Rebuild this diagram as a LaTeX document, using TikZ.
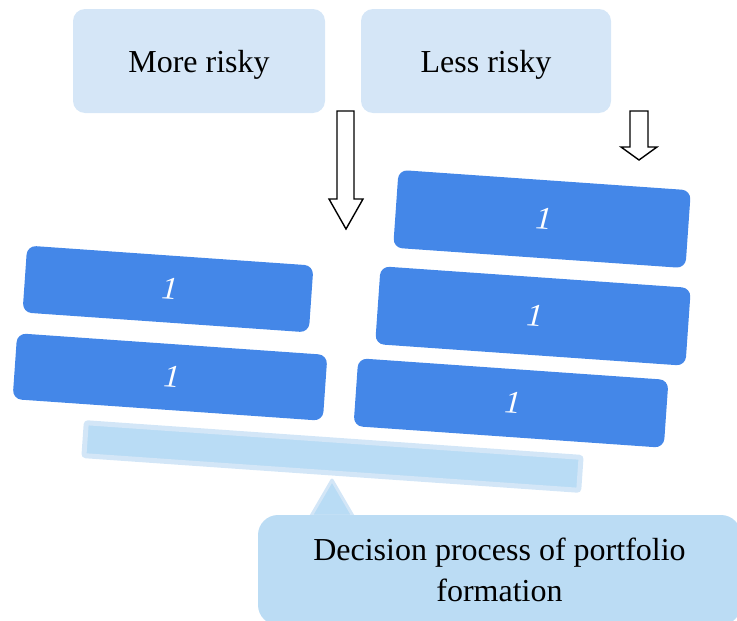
\documentclass[tikz,border=0pt]{standalone}
\usepackage{fontspec}
\setmainfont{Liberation Serif}
\newfontfamily\slantserif[FakeSlant=0.18]{Liberation Serif}
\usepackage{tikz}
\usepackage{xcolor}
\usetikzlibrary{positioning}

\definecolor{topfill}{HTML}{D5E6F7}
\definecolor{weightblue}{HTML}{4487E8}
\definecolor{beamfill}{HTML}{B9DCF5}
\definecolor{beamedge}{HTML}{D3E6F7}
\definecolor{basefill}{HTML}{BBDCF4}

\tikzset{
  riskbox/.style={fill=topfill, rounded corners=12pt, minimum width=252pt,
    minimum height=104pt, text depth=0pt, font=\fontsize{32}{38}\selectfont},
  weight/.style={fill=weightblue, rounded corners=9pt, rotate=-4, text=white,
    text depth=0pt, font=\fontsize{32}{38}\slantserif},
  hollowarrow/.style={draw=black, line width=1.4pt, fill=white, line join=miter}
}

\begin{document}
\begin{tikzpicture}[x=1pt,y=-1pt]
\useasboundingbox (0,0) rectangle (737,621);

\node[riskbox] (morerisky) at (199,61) {More risky};
\node[riskbox, minimum width=250pt] (lessrisky) at (486,61) {Less risky};

\draw[hollowarrow] (337,111) -- (337,199) -- (329,199) -- (346,229) -- (363,199) -- (354,199) -- (354,111) -- cycle;
\draw[hollowarrow] (630,111) -- (630,147) -- (621,147) -- (639,160) -- (657,147) -- (648,147) -- (648,111) -- cycle;

\node[weight, minimum width=287pt, minimum height=67pt] (l1) at (168,289) {1};
\node[weight, minimum width=311pt, minimum height=66pt] (l2) at (170,377) {1};

\node[weight, minimum width=293pt, minimum height=78pt] (r1) at (542,219) {1};
\node[weight, minimum width=311pt, minimum height=78pt] (r2) at (533,316) {1};
\node[weight, minimum width=311pt, minimum height=68pt] (r3) at (511,403) {1};

\draw[draw=beamedge, line width=3pt, fill=beamfill, line join=round] (332,480) -- (353,516) -- (311,516) -- cycle;
\node[draw=beamedge, line width=5pt, fill=beamfill, rounded corners=2pt, rotate=-4,
  minimum width=496pt, minimum height=33pt] (beam) at (332.5,456.5) {};

\node[fill=basefill, rounded corners=20pt, minimum width=483pt, minimum height=110pt,
  align=center, text depth=0pt, font=\fontsize{32}{41}\selectfont] (decision) at (499.5,570)
  {Decision process of portfolio\\formation};
\end{tikzpicture}
\end{document}
